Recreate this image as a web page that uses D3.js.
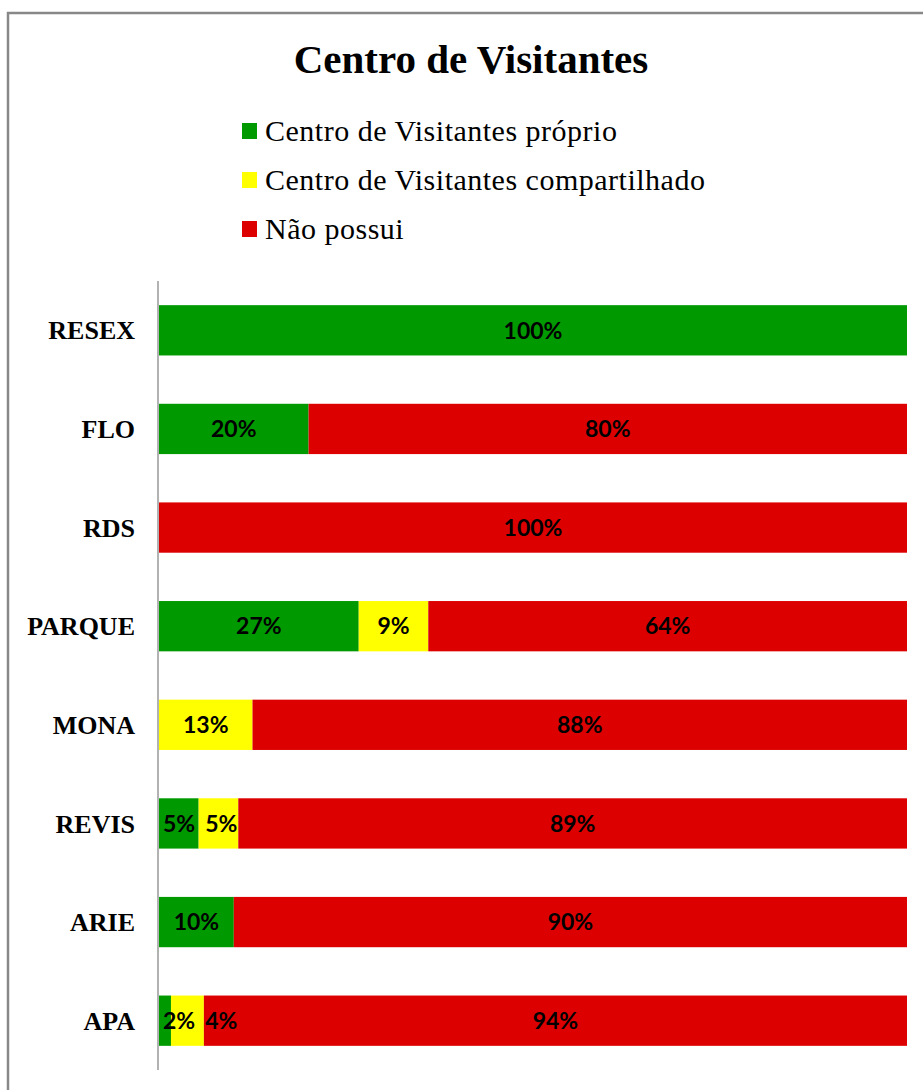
<!DOCTYPE html>
<html>
<head>
<meta charset="utf-8">
<script src="https://cdn.jsdelivr.net/npm/d3@7"></script>
<style>
  html, body { margin: 0; padding: 0; background: #fff; }
  svg { display: block; }
</style>
</head>
<body>
<div id="chart"></div>
<script>
// ---- data ----
const title = "Centro de Visitantes";
const categories = ["RESEX", "FLO", "RDS", "PARQUE", "MONA", "REVIS", "ARIE", "APA"];
const seriesNames = ["Centro de Visitantes próprio", "Centro de Visitantes compartilhado", "Não possui"];
const proprio       = [100, 20,   0, 26.7,    0,  5.3, 10,  1.6];
const compartilhado = [  0,  0,   0,  9.3, 12.5,  5.3,  0,  4.4];
const naoPossui     = [  0, 80, 100, 64.0, 87.5, 89.4, 90, 94.0];
const colors = ["#009900", "#FFFF00", "#DD0000"];

const W = 923, H = 1090;
const svg = d3.select("#chart").append("svg").attr("width", W).attr("height", H);

// frame
svg.append("rect").attr("x", 8).attr("y", 13).attr("width", 1000).attr("height", 1200)
  .attr("fill", "#fff").attr("stroke", "#888").attr("stroke-width", 2.5);

// title
svg.append("text").attr("x", 471).attr("y", 73).attr("text-anchor", "middle")
  .style("font-family", "'Liberation Serif', 'Times New Roman', serif")
  .style("font-weight", "bold").style("font-size", "41px").attr("fill", "#000")
  .text(title);

// legend
const legend = svg.append("g");
seriesNames.forEach((name, i) => {
  const by = 141 + i * 49;
  legend.append("rect").attr("x", 242).attr("y", by - 18).attr("width", 15).attr("height", 16)
    .attr("fill", colors[i]);
  legend.append("text").attr("x", 265).attr("y", by)
    .style("font-family", "'Liberation Serif', 'Times New Roman', serif")
    .style("font-size", "30px").style("letter-spacing", "0.5px").attr("fill", "#000")
    .text(name);
});

// scales
const x = d3.scaleLinear().domain([0, 100]).range([159, 907]);
const y = d3.scaleBand().domain(categories).range([281, 1070]).paddingInner(0.49).paddingOuter(0.245);

const stackData = categories.map((c, i) => ({ cat: c, s0: proprio[i], s1: compartilhado[i], s2: naoPossui[i] }));
const series = d3.stack().keys(["s0", "s1", "s2"])(stackData);

const barsG = svg.append("g");
series.forEach((s, si) => {
  barsG.selectAll(null).data(s.filter(d => d[1] - d[0] > 0)).enter().append("rect")
    .attr("x", d => x(d[0]))
    .attr("y", d => y(d.data.cat))
    .attr("width", d => x(d[1]) - x(d[0]))
    .attr("height", y.bandwidth())
    .attr("fill", colors[si]);
});

// axis (category)
const yAxis = d3.axisLeft(y).tickSize(0).tickPadding(23);
const ax = svg.append("g").attr("transform", "translate(158,0)").call(yAxis);
ax.select(".domain").remove();
ax.selectAll("text")
  .style("font-family", "'Liberation Serif', 'Times New Roman', serif")
  .style("font-weight", "bold").style("font-size", "26px").attr("fill", "#000")
  .attr("dy", "0.35em");
svg.append("line").attr("x1", 158).attr("x2", 158).attr("y1", 281).attr("y2", 1070)
  .attr("stroke", "#999").attr("stroke-width", 1.5);

// labels with simple collision avoidance
const labelG = svg.append("g");
const fontLabel = "bold 23px Lato, 'Open Sans', sans-serif";
const ctx = document.createElement("canvas").getContext("2d");
ctx.font = fontLabel;
categories.forEach((c, ci) => {
  let prevEnd = -Infinity;
  const cy = y(c) + y.bandwidth() / 2;
  series.forEach((s, si) => {
    const d = s[ci];
    const v = d[1] - d[0];
    if (v <= 0) return;
    const txt = Math.round(v) + "%";
    const w = ctx.measureText(txt).width;
    let start = (x(d[0]) + x(d[1])) / 2 - w / 2;
    if (start < x(0) + 4) start = x(0) + 4;
    if (start < prevEnd + 10) start = prevEnd + 10;
    prevEnd = start + w;
    labelG.append("text").attr("x", start).attr("y", cy).attr("dy", "0.36em")
      .style("font", fontLabel).attr("fill", "#000").text(txt);
  });
});
</script>
</body>
</html>
